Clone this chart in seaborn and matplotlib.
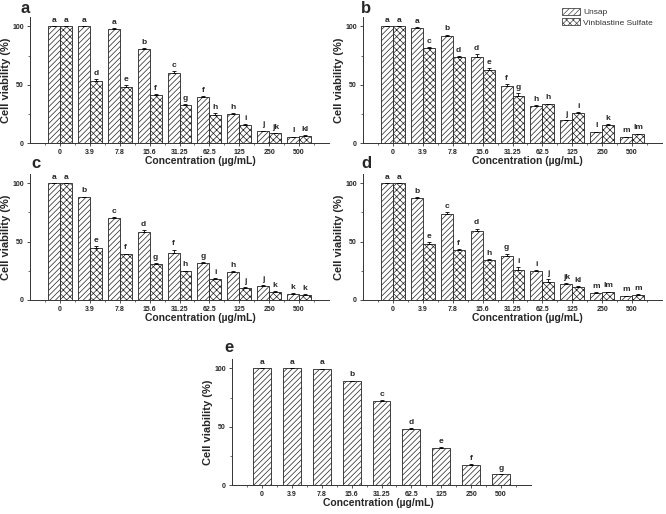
import numpy as np
import pandas as pd
import matplotlib
matplotlib.use("Agg")
import matplotlib.pyplot as plt
import seaborn as sns
from matplotlib.patches import Patch
from matplotlib.ticker import FixedLocator

# concentrations (ug/mL)
conc = ["0", "3.9", "7.8", "15.6", "31.25", "62.5", "125", "250", "500"]

# panel a
a_unsap = [100, 100, 97.7, 80.7, 60.2, 39.2, 25.0, 10.2, 4.8]
a_vinb = [100, 53.0, 47.7, 40.9, 32.4, 23.9, 15.6, 8.2, 6.2]
a_unsap_err = [0, 0, 0.5, 0.5, 1.2, 1.0, 0.8, 0.5, 0.5]
a_vinb_err = [0, 1.5, 2.0, 1.2, 0.8, 1.5, 0.5, 0.5, 0.5]
a_unsap_let = ["a", "a", "a", "b", "c", "f", "h", "j", "l"]
a_vinb_let = ["a", "d", "e", "f", "g", "h", "i", "jk", "kl"]

# panel b
b_unsap = [100, 98.9, 91.8, 73.9, 48.9, 31.3, 19.3, 9.1, 5.1]
b_vinb = [100, 81.5, 73.9, 63.0, 40.6, 33.2, 25.6, 15.6, 7.4]
b_unsap_err = [0, 0.5, 1.0, 2.5, 1.5, 1.0, 0.5, 0.5, 0.3]
b_vinb_err = [0, 0.5, 0.5, 1.0, 2.0, 0.5, 0.8, 0.8, 0.5]
b_unsap_let = ["a", "a", "b", "d", "f", "h", "j", "l", "m"]
b_vinb_let = ["a", "c", "d", "e", "g", "h", "i", "k", "lm"]

# panel c
c_unsap = [100, 88.0, 70.0, 58.0, 40.6, 31.4, 23.7, 12.0, 5.1]
c_vinb = [100, 44.9, 39.1, 30.9, 24.6, 18.0, 10.6, 7.1, 4.6]
c_unsap_err = [0, 0.5, 1.0, 2.0, 2.5, 1.0, 1.0, 0.8, 0.5]
c_vinb_err = [0, 1.0, 0.5, 0.5, 0.5, 0.5, 0.5, 0.5, 0.3]
c_unsap_let = ["a", "b", "c", "d", "f", "g", "h", "j", "k"]
c_vinb_let = ["a", "e", "f", "g", "h", "i", "j", "k", "k"]

# panel d
d_unsap = [100, 87.4, 74.0, 59.1, 37.7, 24.9, 13.7, 6.3, 3.4]
d_vinb = [100, 47.7, 42.6, 34.0, 25.4, 15.7, 11.1, 6.6, 4.6]
d_unsap_err = [0, 0.5, 1.2, 2.0, 2.0, 0.8, 0.5, 0.3, 0.3]
d_vinb_err = [0, 2.0, 1.0, 1.0, 2.5, 2.0, 0.5, 0.5, 0.3]
d_unsap_let = ["a", "b", "c", "d", "g", "i", "jk", "m", "m"]
d_vinb_let = ["a", "e", "f", "h", "i", "j", "kl", "lm", "m"]

# panel e (Unsap only)
e_unsap = [100, 100, 99.7, 88.9, 71.6, 47.7, 31.8, 17.3, 9.1]
e_unsap_err = [0, 0, 0, 0.5, 1.0, 1.0, 0.5, 0.3, 0.3]
e_unsap_let = ["a", "a", "a", "b", "c", "d", "e", "f", "g"]

groups = ["Unsap", "Vinblastine Sulfate"]
hatches = ["//////", "xxxxx"]

sns.set_style("ticks")
plt.rcParams["font.family"] = ["Liberation Sans", "DejaVu Sans"]
plt.rcParams["hatch.linewidth"] = 0.5
plt.rcParams["hatch.color"] = "#222222"

W, H = 666, 514
fig = plt.figure(figsize=(W / 100, H / 100), dpi=100)


def px_axes(left, zero_y, width=299, height=126):
    return fig.add_axes([left / W, 1 - zero_y / H, width / W, height / H])


def style_axes(ax, label_x):
    ax.set_xlim(-1, 9)
    ax.set_ylim(0, 108)
    ax.set_yticks([0, 50, 100])
    ax.yaxis.set_minor_locator(FixedLocator([25, 75]))
    ax.xaxis.set_minor_locator(FixedLocator(np.arange(-0.5, 9, 1)))
    sns.despine(ax=ax)
    for s in ["left", "bottom"]:
        ax.spines[s].set_linewidth(0.7)
        ax.spines[s].set_color("#333333")
    ax.tick_params(axis="both", which="major", length=2.5, width=0.6,
                   labelsize=5, pad=2, color="#333333")
    ax.tick_params(axis="both", which="minor", length=1.5, width=0.5,
                   color="#333333")
    for t in ax.get_xticklabels() + ax.get_yticklabels():
        t.set_fontweight("bold")
    ax.set_xlabel("Concentration (µg/mL)", fontsize=7.5, fontweight="bold")
    ax.set_ylabel("Cell viability (%)", fontsize=8, fontweight="bold")
    ax.xaxis.set_label_coords(label_x, -0.105)
    ax.yaxis.set_label_coords(-0.062, 0.5)


def annotate(ax, container, errs, letters):
    xs = [b.get_x() + b.get_width() / 2 for b in container]
    hs = [b.get_height() for b in container]
    ax.errorbar(xs, hs, yerr=[np.zeros(len(errs)), errs], fmt="none",
                ecolor="black", elinewidth=0.6, capsize=1.5, capthick=0.6)
    for x, h, e, lt in zip(xs, hs, errs, letters):
        ax.text(x, h + e + 2, lt, ha="center", va="bottom",
                fontsize=6, fontweight="bold")


def pair_panel(ax, unsap, vinb, uerr, verr, ulet, vlet):
    df = pd.DataFrame({
        "conc": conc * 2,
        "group": [groups[0]] * len(conc) + [groups[1]] * len(conc),
        "viability": unsap + vinb,
    })
    sns.barplot(data=df, x="conc", y="viability", hue="group", order=conc,
                hue_order=groups, palette=["white", "white"], width=0.8,
                edgecolor="#222222", linewidth=0.6, errorbar=None,
                legend=False, ax=ax)
    for cont, hatch in zip(ax.containers, hatches):
        for bar in cont:
            bar.set_hatch(hatch)
    conts = list(ax.containers)
    annotate(ax, conts[0], uerr, ulet)
    annotate(ax, conts[1], verr, vlet)


ax_a = px_axes(30, 143)
pair_panel(ax_a, a_unsap, a_vinb, a_unsap_err, a_vinb_err, a_unsap_let, a_vinb_let)
style_axes(ax_a, 0.57)

ax_b = px_axes(363, 143)
pair_panel(ax_b, b_unsap, b_vinb, b_unsap_err, b_vinb_err, b_unsap_let, b_vinb_let)
style_axes(ax_b, 0.55)

ax_c = px_axes(30, 300)
pair_panel(ax_c, c_unsap, c_vinb, c_unsap_err, c_vinb_err, c_unsap_let, c_vinb_let)
style_axes(ax_c, 0.57)

ax_d = px_axes(363, 300)
pair_panel(ax_d, d_unsap, d_vinb, d_unsap_err, d_vinb_err, d_unsap_let, d_vinb_let)
style_axes(ax_d, 0.55)

ax_e = px_axes(232, 485)
df_e = pd.DataFrame({"conc": conc, "viability": e_unsap})
sns.barplot(data=df_e, x="conc", y="viability", order=conc, color="white",
            width=0.6, edgecolor="#222222", linewidth=0.6, errorbar=None, ax=ax_e)
for bar in ax_e.containers[0]:
    bar.set_hatch(hatches[0])
annotate(ax_e, ax_e.containers[0], e_unsap_err, e_unsap_let)
style_axes(ax_e, 0.49)

# legend on panel b
handles = [Patch(facecolor="white", edgecolor="#444444", linewidth=0.6, hatch=h)
           for h in hatches]
ax_b.legend(handles, groups, loc="upper left",
            bbox_to_anchor=(562 / W, 1 - 8 / H), bbox_transform=fig.transFigure,
            frameon=False, fontsize=6, handlelength=2.2, handleheight=0.9,
            handletextpad=0.35, labelspacing=0.25, borderpad=0, borderaxespad=0,
            labelcolor="#333333")

# panel letters
for lt, x, y in [("a", 21, 13), ("b", 361, 13), ("c", 31, 168),
                 ("d", 361, 168), ("e", 224, 352)]:
    fig.text(x / W, 1 - y / H, lt, fontsize=12, fontweight="bold",
             ha="left", va="baseline")

fig.savefig("out.png", dpi=100)
